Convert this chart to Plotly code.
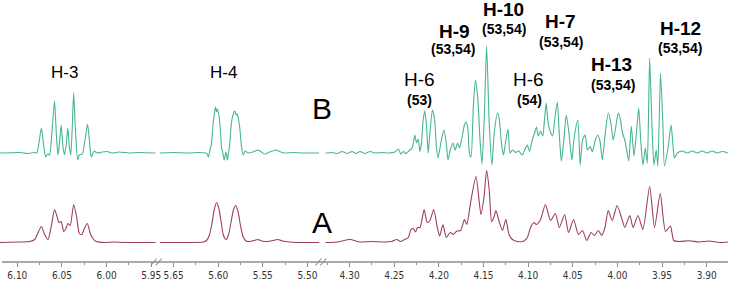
import plotly.graph_objects as go

# ---------------- data (chemical shift in ppm, intensity in arbitrary units) ----------------
# Segment 1 : H-3 region
h3_ppm_B = [6.1194, 6.0972, 6.0883, 6.0817, 6.0783, 6.0761, 6.0731, 6.0705, 6.0683, 6.0661,
            6.0639, 6.0613, 6.0583, 6.0561, 6.0544, 6.0528, 6.0509, 6.0491, 6.0472, 6.0453,
            6.0435, 6.0417, 6.0402, 6.0385, 6.0369, 6.0350, 6.0324, 6.0306, 6.0272, 6.0239,
            6.0213, 6.0188, 6.0172, 6.0139, 6.0105, 6.0050, 5.9994, 5.9939, 5.9861, 5.9750,
            5.9639, 5.9450]
h3_int_B = [0, 0.5, -0.5, 0.5, 0, 8, 25, 8, -4, -1,
            -2, 20, 52, 15, -2, 10, 28, 8, -2, 8,
            25, 6, -2, 25, 60, 25, -7, -2, -1, 15,
            29, 8, -4, 2, 0, 1, 1.5, 0, 1, 0,
            0.5, 0]
h3_ppm_A = [6.1194, 6.0972, 6.0861, 6.0805, 6.0772, 6.0731, 6.0694, 6.0657, 6.0622, 6.0583,
            6.0555, 6.0535, 6.0509, 6.0480, 6.0455, 6.0435, 6.0408, 6.0369, 6.0335, 6.0306,
            6.0278, 6.0250, 6.0216, 6.0183, 6.0155, 6.0116, 6.0027, 5.9916, 5.9805, 5.9639,
            5.9450]
h3_int_A = [0, 0.5, 1, 3, 9, 16, 8, 3, 15, 33,
            26, 20, 21, 11, 14, 19, 17, 38, 25, 9,
            8, 14, 19, 9, 4, 1, 0, 0.5, 0, 0,
            0]

# Segment 2 : H-4 region
h4_ppm_B = [5.6655, 5.6500, 5.6333, 5.6222, 5.6144, 5.6122, 5.6111, 5.6092, 5.6078, 5.6055,
            5.6039, 5.6030, 5.6019, 5.6009, 5.5989, 5.5974, 5.5963, 5.5950, 5.5933, 5.5914,
            5.5896, 5.5885, 5.5874, 5.5852, 5.5828, 5.5814, 5.5797, 5.5786, 5.5778, 5.5759,
            5.5741, 5.5722, 5.5697, 5.5666, 5.5611, 5.5555, 5.5516, 5.5481, 5.5422, 5.5352,
            5.5300, 5.5255, 5.5166, 5.5055, 5.4866]
h4_int_B = [0, 0.5, 0, 0.5, 0, -1, -4, 3, 8, 31,
            42, 46, 41, 44, 36, 20, 6, 1, -7, 1,
            -7, 0, 6, 30, 40, 42, 38, 39, 36, 26,
            8, -2, 2, 0, 1, 3, 1, -1, 1, 3,
            1, 0, 0.5, 0, 0]
h4_ppm_A = [5.6655, 5.6333, 5.6166, 5.6130, 5.6100, 5.6072, 5.6044, 5.6019, 5.5992, 5.5966,
            5.5941, 5.5911, 5.5883, 5.5855, 5.5828, 5.5803, 5.5778, 5.5750, 5.5722, 5.5689,
            5.5644, 5.5600, 5.5555, 5.5511, 5.5444, 5.5389, 5.5333, 5.5278, 5.5200, 5.5055,
            5.4866]
h4_int_A = [0, 0, 0.5, 2, 7, 18, 33, 40, 34, 20,
            7, 3, 8, 21, 33, 37, 31, 17, 6, 1.5,
            1, 2, 3, 1.5, 1, 2, 3, 1.5, 0.5, 0,
            0]

# Segment 3 : H-6 ... H-13 region
sug_ppm_B = [4.3272, 4.3194, 4.3139, 4.3083, 4.3028, 4.2972, 4.2928, 4.2883, 4.2828, 4.2772,
             4.2717, 4.2639, 4.2561, 4.2494, 4.2453, 4.2428, 4.2398, 4.2367, 4.2325, 4.2300,
             4.2280, 4.2269, 4.2250, 4.2231, 4.2213, 4.2197, 4.2176, 4.2158, 4.2139, 4.2120,
             4.2103, 4.2072, 4.2047, 4.2028, 4.2009, 4.1972, 4.1943, 4.1917, 4.1898, 4.1872,
             4.1843, 4.1817, 4.1791, 4.1769, 4.1747, 4.1731, 4.1714, 4.1695, 4.1676, 4.1658,
             4.1639, 4.1614, 4.1591, 4.1565, 4.1539, 4.1517, 4.1491, 4.1465, 4.1436, 4.1406,
             4.1380, 4.1343, 4.1325, 4.1295, 4.1276, 4.1250, 4.1225, 4.1203, 4.1176, 4.1139,
             4.1106, 4.1065, 4.1039, 4.1009, 4.0984, 4.0954, 4.0928, 4.0906, 4.0887, 4.0861,
             4.0836, 4.0817, 4.0798, 4.0776, 4.0750, 4.0725, 4.0703, 4.0673, 4.0650, 4.0628,
             4.0603, 4.0573, 4.0547, 4.0528, 4.0509, 4.0491, 4.0473, 4.0443, 4.0417, 4.0391,
             4.0361, 4.0336, 4.0306, 4.0280, 4.0250, 4.0220, 4.0195, 4.0169, 4.0139, 4.0103,
             4.0073, 4.0047, 4.0020, 3.9991, 3.9965, 3.9943, 3.9917, 3.9895, 3.9873, 3.9845,
             3.9814, 3.9787, 3.9761, 3.9739, 3.9714, 3.9687, 3.9665, 3.9639, 3.9614, 3.9591,
             3.9565, 3.9547, 3.9517, 3.9491, 3.9473, 3.9436, 3.9398, 3.9373, 3.9361, 3.9328,
             3.9273, 3.9217, 3.9161, 3.9106, 3.9050, 3.8995, 3.8939, 3.8884, 3.8828, 3.8761]
sug_int_B = [0, 0.5, -0.5, 1.5, -0.5, 1.5, -0.5, 1.5, -0.5, 1.5,
             0, 0.5, 0, 1, 4, -1, 1.5, -0.5, 3, 5,
             13, 18, 10, 14, 1.5, 8, 33, 42, 28, 0,
             17, 43, 33, 6.5, -5, 13, 23, 10, -7, 3,
             10, 3, 10, 5, 13, 20, 28, 31, 25, 0,
             -4, 46, 73, 56, 13, -11, 36, 107, 30, -12,
             20, 40, 35, 6.5, -2, 13, 24, 0, 3, 0.5,
             2, -2, 3, 8, 1.5, 13, 20, 26, 17, 22,
             17, 33, 50, 30, 21, 17, 33, 51, 17, -8,
             10, 38, 23, 6.5, -7, 10, 22, 33, -12, 13,
             18, 3, 6.5, 1, 12, 18, 12, -7, 17, 40,
             30, 13, 25, 40, 33, 20, 13, 2, -8, 27,
             -3, 20, 45, 13, -12, 5, -10, 95, 30, -12,
             3, -13, 80, 30, -13, 3, 28, 3, -5, 0,
             2, 0, 2, 0, 2, 0, 2, 0, 1.5, 0]
sug_ppm_A = [4.3272, 4.3139, 4.2994, 4.2894, 4.2750, 4.2606, 4.2528, 4.2472, 4.2428, 4.2395,
             4.2342, 4.2313, 4.2287, 4.2261, 4.2239, 4.2211, 4.2165, 4.2131, 4.2100, 4.2058,
             4.2017, 4.1991, 4.1954, 4.1917, 4.1872, 4.1839, 4.1798, 4.1756, 4.1714, 4.1687,
             4.1639, 4.1584, 4.1547, 4.1528, 4.1495, 4.1465, 4.1436, 4.1409, 4.1380, 4.1361,
             4.1325, 4.1287, 4.1250, 4.1214, 4.1176, 4.1117, 4.1047, 4.1009, 4.0973, 4.0936,
             4.0906, 4.0861, 4.0806, 4.0750, 4.0695, 4.0650, 4.0591, 4.0547, 4.0491, 4.0436,
             4.0391, 4.0343, 4.0295, 4.0258, 4.0214, 4.0176, 4.0139, 4.0103, 4.0058, 4.0003,
             3.9954, 3.9917, 3.9861, 3.9825, 3.9769, 3.9714, 3.9639, 3.9584, 3.9520, 3.9461,
             3.9406, 3.9369, 3.9306, 3.9195, 3.9084, 3.8973, 3.8861, 3.8761]
sug_int_A = [0, 0.5, 3, 0.5, 1, 0.5, 1, 3, 1, 2.5,
             5, 13, 14, 10.5, 15, 15, 33, 20, 22, 33,
             15, 6.5, 18, 5, 10, 8, 11.5, 12, 23, 18,
             43, 66, 40, 28, 45, 72, 53, 21, 26, 32,
             21, 12, 23, 8, 3, 1, 1.5, 5, 15, 20,
             18, 23, 38, 22, 29, 15, 28, 10, 23, 8,
             12, 2, 10, 7, 12, 7, 15, 32, 22, 37,
             25, 15, 27, 15, 27, 13, 56, 15, 49, 11,
             16.5, 2, 1, 1.7, 0.5, 1.5, 0, 0.5]

segment_ranges = [(6.1194, 5.9450), (5.6656, 5.4866), (4.3272, 3.8761)]

# ---------------- figure geometry (pixels) ----------------
W, H = 734, 283
MB = 21
PH = H - MB  # plot height in px
seg_px = [(0, 157), (161, 322), (328, 734)]
B_OFFSET = 89.5
Y_RANGE = [-19.5, 242.5]

COL_B = "#44b690"
COL_A = "#9c3f5d"
AXC = "#8c8c8c"
TICKFONT = dict(family="DejaVu Sans Condensed, DejaVu Sans", size=10, color="#333333")

fig = go.Figure()
series = [
    (h3_ppm_A, h3_int_A, h3_ppm_B, h3_int_B, "x"),
    (h4_ppm_A, h4_int_A, h4_ppm_B, h4_int_B, "x2"),
    (sug_ppm_A, sug_int_A, sug_ppm_B, sug_int_B, "x3"),
]
for pa, ia, pb, ib, xa in series:
    fig.add_trace(go.Scatter(x=pa, y=ia, xaxis=xa, yaxis="y", mode="lines",
                             line=dict(color=COL_A, width=1.1, shape="spline", smoothing=0.6),
                             hoverinfo="skip", showlegend=False))
    fig.add_trace(go.Scatter(x=pb, y=[v + B_OFFSET for v in ib], xaxis=xa, yaxis="y", mode="lines",
                             line=dict(color=COL_B, width=1.1, shape="spline", smoothing=0.6),
                             hoverinfo="skip", showlegend=False))


def xaxis_cfg(i):
    lo_px, hi_px = seg_px[i]
    r = segment_ranges[i]
    return dict(domain=[lo_px / W, hi_px / W], range=[r[0], r[1]], anchor="y",
                showline=False, showgrid=False, zeroline=False,
                ticks="outside", ticklen=4, tickwidth=1, tickcolor=AXC,
                tick0=0, dtick=0.05, tickformat=".2f", tickfont=TICKFONT,
                minor=dict(tick0=0, dtick=0.025, ticks="outside", ticklen=2,
                           tickwidth=1, tickcolor=AXC, showgrid=False),
                fixedrange=True)


shapes = [dict(type="line", xref="paper", yref="paper", x0=2 / W, x1=1, y0=0, y1=0,
               line=dict(color=AXC, width=1.5))]
for cx in (157.5, 323.5):
    for dx in (-2.5, 2.5):
        shapes.append(dict(type="line", xref="paper", yref="paper",
                           x0=(cx + dx - 3) / W, x1=(cx + dx + 3) / W,
                           y0=-3.5 / PH, y1=3.5 / PH,
                           line=dict(color=AXC, width=1.1)))

ann = []
REG = "Liberation Sans, Arial"


def lab(text, xa, x, y, size, bold=False):
    ann.append(dict(text=f"<b>{text}</b>" if bold else text, xref=xa, yref="y", x=x, y=y,
                    showarrow=False, xanchor="center", yanchor="middle",
                    font=dict(family=REG, size=size, color="#000000")))


lab("H-3", "x", 6.0472, 170.5, 17)
lab("H-4", "x2", 5.5944, 170.5, 17)
lab("H-6", "x3", 4.2217, 163.5, 19)
lab("(53)", "x3", 4.2217, 142.5, 14, True)
lab("H-9", "x3", 4.1828, 211.5, 19, True)
lab("(53,54)", "x3", 4.1839, 193.5, 14, True)
lab("H-10", "x3", 4.1272, 233.0, 19, True)
lab("(53,54)", "x3", 4.1272, 213.5, 14, True)
lab("H-6", "x3", 4.0994, 163.5, 19)
lab("(54)", "x3", 4.0983, 142.5, 14, True)
lab("H-7", "x3", 4.0639, 221.5, 19, True)
lab("(53,54)", "x3", 4.0628, 200.5, 14, True)
lab("H-13", "x3", 4.0061, 178.5, 19, True)
lab("(53,54)", "x3", 4.0050, 157.5, 14, True)
lab("H-12", "x3", 3.9294, 214.5, 19, True)
lab("(53,54)", "x3", 3.9294, 194.5, 14, True)
for t, py in (("B", 109), ("A", 222)):
    ann.append(dict(text=t, xref="paper", yref="paper", x=325 / W, y=(PH - py) / PH,
                    showarrow=False, xanchor="center", yanchor="middle",
                    font=dict(family=REG, size=30, color="#000000")))

fig.update_layout(
    width=W, height=H, margin=dict(l=0, r=0, t=0, b=MB),
    paper_bgcolor="white", plot_bgcolor="white",
    xaxis=xaxis_cfg(0), xaxis2=xaxis_cfg(1), xaxis3=xaxis_cfg(2),
    yaxis=dict(range=Y_RANGE, domain=[0, 1], visible=False, fixedrange=True),
    shapes=shapes, annotations=ann, showlegend=False,
)

fig.write_html("out.html", config={"displayModeBar": False},
               post_script="document.body.style.margin='0';document.body.style.overflow='hidden';")
